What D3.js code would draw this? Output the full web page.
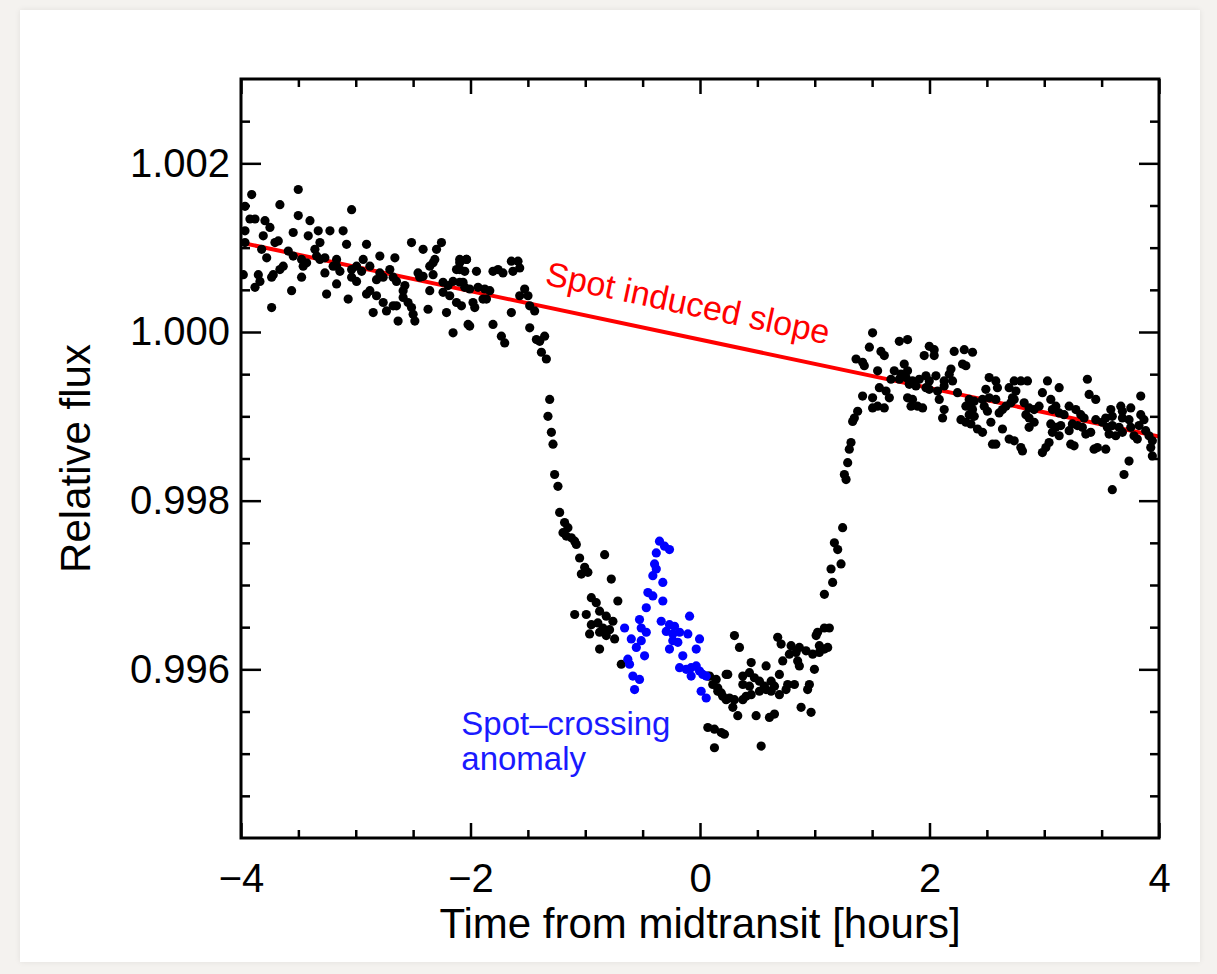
<!DOCTYPE html>
<html lang="en">
<head>
    <meta charset="UTF-8" />
    <title>Spot-crossing transit light curve</title>
    <script src="https://d3js.org/d3.v7.min.js"></script>
    <style>
        * { margin: 0; padding: 0; box-sizing: border-box; }
        body { background-color: #f4f2ef; width: 1217px; height: 974px; overflow: hidden; }
        .panel {
            position: absolute; left: 20px; top: 10px; width: 1180px; height: 952px;
            background: #fff; box-shadow: 0 0 6px rgba(0, 0, 0, 0.08);
        }
        svg { position: absolute; left: 0; top: 0; }
    </style>
</head>
<body>
<div class="panel"></div>
<svg width="1217" height="974"></svg>
<script>
    // Light curve points: [time from midtransit (h), relative flux]
    var beforeTransit = [
        [-3.907,1.00163],[-3.501,1.00169],[-3.661,1.00151],[-3.036,1.00145],[-3.965,1.00149],
        [-3.922,1.00134],[-3.878,1.00134],[-3.965,1.00120],[-3.791,1.00132],[-3.748,1.00124],
        [-3.501,1.00138],[-3.399,1.00132],[-3.545,1.00118],[-3.414,1.00114],[-3.327,1.00120],
        [-3.225,1.00120],[-3.110,1.00120],[-3.806,1.00114],[-3.704,1.00106],[-3.675,1.00108],
        [-3.312,1.00106],[-3.080,1.00104],[-2.906,1.00104],[-2.514,1.00106],[-2.413,1.00098],
        [-2.253,1.00106],[-2.296,1.00098],[-3.965,1.00106],[-3.820,1.00098],[-3.588,1.00096],
        [-3.545,1.00090],[-3.356,1.00098],[-3.341,1.00090],[-3.472,1.00086],[-3.428,1.00082],
        [-3.776,1.00088],[-3.312,1.00086],[-3.269,1.00088],[-3.167,1.00086],[-2.935,1.00086],
        [-2.790,1.00090],[-2.659,1.00088],[-2.311,1.00086],[-2.094,1.00086],[-2.035,1.00086],
        [-3.632,1.00078],[-3.661,1.00074],[-3.458,1.00078],[-3.197,1.00078],[-3.167,1.00078],
        [-3.036,1.00074],[-2.993,1.00078],[-2.949,1.00072],[-2.877,1.00078],[-2.790,1.00070],
        [-2.703,1.00074],[-2.457,1.00070],[-2.413,1.00066],[-2.355,1.00078],[-2.326,1.00082],
        [-2.122,1.00074],[-2.094,1.00082],[-3.719,1.00068],[-3.733,1.00065],[-3.849,1.00068],
        [-3.835,1.00060],[-3.980,1.00068],[-3.472,1.00065],[-3.269,1.00070],[-3.138,1.00072],
        [-3.036,1.00065],[-2.993,1.00060],[-2.819,1.00062],[-2.761,1.00065],[-2.674,1.00065],
        [-2.645,1.00060],[-2.572,1.00055],[-2.587,1.00049],[-2.442,1.00065],[-2.326,1.00068],
        [-2.239,1.00059],[-2.195,1.00055],[-2.152,1.00060],[-2.065,1.00059],[-3.878,1.00053],
        [-3.559,1.00049],[-3.167,1.00057],[-3.254,1.00045],[-3.066,1.00039],[-2.906,1.00045],
        [-2.877,1.00049],[-2.819,1.00043],[-2.587,1.00041],[-2.355,1.00049],[-2.239,1.00047],
        [-2.181,1.00043],[-2.761,1.00035],[-2.674,1.00031],[-2.645,1.00031],[-2.544,1.00035],
        [-2.514,1.00029],[-3.733,1.00029],[-2.848,1.00023],[-2.732,1.00025],[-2.500,1.00021],
        [-2.485,1.00013],[-2.370,1.00027],[-2.209,1.00023],[-2.122,1.00035],[-2.631,1.00013],
        [-2.021,1.00009],[-2.152,0.99999],
        [-2.035,1.00086],[-2.094,1.00074],[-2.050,1.00072],[-1.948,1.00072],[-1.804,1.00072],
        [-1.760,1.00074],[-1.717,1.00070],[-1.644,1.00084],[-1.586,1.00084],[-1.571,1.00076],
        [-1.630,1.00072],[-2.094,1.00059],[-2.050,1.00053],[-2.007,1.00051],[-1.934,1.00053],
        [-1.876,1.00051],[-1.832,1.00049],[-1.528,1.00051],[-1.499,1.00043],[-1.571,1.00043],
        [-2.079,1.00031],[-1.978,1.00035],[-1.963,1.00029],[-1.891,1.00039],[-1.861,1.00039],
        [-1.484,1.00031],[-1.441,1.00025],[-1.644,1.00023],[-2.007,1.00007],[-1.804,1.00009],
        [-1.484,1.00005],[-1.731,0.99995],[-1.702,0.99987],[-1.354,0.99995],[-1.397,0.99989],
        [-1.426,0.99991]
    ];

    var inTransit = [
        [-1.382,0.99976],[-1.339,0.99968],[-1.310,0.99920],[-1.325,0.99900],[-1.295,0.99881],
        [-1.281,0.99867],[-1.267,0.99831],[-1.238,0.99817],[-1.223,0.99786],[-1.180,0.99774],
        [-1.151,0.99768],[-1.194,0.99762],[-1.121,0.99756],[-1.092,0.99752],[-1.165,0.99758],
        [-1.078,0.99748],[-1.049,0.99732],[-0.831,0.99736],[-1.005,0.99721],[-1.034,0.99713],
        [-0.977,0.99715],[-0.773,0.99707],[-0.947,0.99685],[-0.904,0.99679],[-0.716,0.99681],
        [-1.092,0.99665],[-0.991,0.99665],[-0.875,0.99669],[-0.817,0.99663],[-0.759,0.99657],
        [-0.947,0.99653],[-0.890,0.99655],[-0.846,0.99649],[-0.788,0.99647],[-0.962,0.99642],
        [-0.875,0.99644],[-0.817,0.99640],[-0.744,0.99636],[-0.875,0.99624],[-0.686,0.99606],
        [0.083,0.99592],[0.141,0.99588],[0.228,0.99594],[0.155,0.99578],[0.185,0.99572],
        [0.228,0.99564],[0.068,0.99531],[0.126,0.99529],[0.185,0.99525],[0.126,0.99507],
        [0.300,0.99640],[0.677,0.99638],[0.707,0.99630],[0.344,0.99626],[0.794,0.99628],
        [0.866,0.99626],[0.924,0.99622],[0.779,0.99618],[0.837,0.99620],[1.040,0.99628],
        [1.084,0.99624],[1.113,0.99626],[0.982,0.99618],[1.040,0.99620],[0.446,0.99608],
        [0.576,0.99604],[0.721,0.99610],[0.851,0.99610],[0.866,0.99604],[0.997,0.99600],
        [0.068,0.99592],[0.242,0.99594],[0.373,0.99592],[0.431,0.99596],[0.474,0.99590],
        [0.692,0.99594],[0.111,0.99582],[0.155,0.99574],[0.198,0.99568],[0.373,0.99582],
        [0.431,0.99580],[0.518,0.99586],[0.561,0.99580],[0.620,0.99586],[0.649,0.99580],
        [0.764,0.99582],[0.823,0.99582],[0.953,0.99582],[0.938,0.99576],[0.518,0.99574],
        [0.576,0.99576],[0.620,0.99574],[0.692,0.99570],[0.750,0.99576],[0.257,0.99566],
        [0.300,0.99564],[0.373,0.99564],[0.402,0.99568],[0.446,0.99570],[0.286,0.99555],
        [0.329,0.99545],[0.489,0.99545],[0.605,0.99543],[0.649,0.99547],[0.881,0.99555],
        [0.968,0.99549],[0.213,0.99523],[0.533,0.99509],
        [1.084,0.99649],[1.127,0.99649],[1.025,0.99644],[1.012,0.99640],[1.084,0.99689],
        [1.156,0.99703],[1.142,0.99719],[1.229,0.99725],[1.200,0.99742],[1.171,0.99750],
        [1.243,0.99768],[1.273,0.99825],[1.258,0.99831],[1.287,0.99845],[1.301,0.99861],
        [1.316,0.99869],[1.330,0.99894],[1.345,0.99898],[1.374,0.99906],[1.360,0.99968],
        [1.417,0.99964],[1.432,0.99960]
    ];

    var spotCrossing = [
        [-0.353,0.99752],[-0.309,0.99746],[-0.266,0.99742],[-0.381,0.99738],[-0.396,0.99725],
        [-0.381,0.99719],[-0.411,0.99711],[-0.324,0.99703],[-0.454,0.99691],[-0.411,0.99687],
        [-0.324,0.99681],[-0.468,0.99673],[-0.091,0.99663],[-0.527,0.99659],[-0.512,0.99649],
        [-0.338,0.99657],[-0.266,0.99653],[-0.222,0.99651],[-0.657,0.99649],[-0.468,0.99644],
        [-0.294,0.99645],[-0.237,0.99642],[-0.178,0.99644],[-0.106,0.99642],[-0.599,0.99636],
        [-0.512,0.99634],[-0.237,0.99634],[-0.193,0.99632],[-0.004,0.99636],[-0.555,0.99626],
        [-0.483,0.99616],[-0.266,0.99624],[-0.033,0.99624],[-0.150,0.99616],[-0.629,0.99612],
        [-0.614,0.99606],[-0.178,0.99602],[-0.120,0.99600],[-0.077,0.99602],[-0.033,0.99604],
        [-0.004,0.99598],[-0.585,0.99592],[-0.527,0.99588],[-0.077,0.99592],[0.024,0.99594],
        [0.054,0.99592],[-0.570,0.99576],[0.010,0.99574],[0.054,0.99566]
    ];

    var afterTransit = [
        [1.504,0.99999],[1.737,0.99989],[1.809,0.99991],[1.476,0.99982],[1.577,0.99977],
        [1.606,0.99972],[1.998,0.99983],[2.041,0.99979],[1.954,0.99972],[2.041,0.99972],
        [2.215,0.99977],[2.303,0.99979],[2.375,0.99976],[2.288,0.99962],[2.317,0.99960],
        [1.548,0.99954],[1.693,0.99954],[1.780,0.99962],[1.751,0.99950],[1.809,0.99954],
        [2.187,0.99956],[2.172,0.99950],[1.664,0.99944],[1.737,0.99944],[1.795,0.99946],
        [1.852,0.99942],[1.911,0.99944],[1.969,0.99948],[1.998,0.99942],[2.056,0.99948],
        [2.128,0.99942],[2.201,0.99942],[2.520,0.99946],[2.578,0.99942],[2.738,0.99942],
        [2.796,0.99942],[2.854,0.99942],[3.028,0.99942],[3.376,0.99944],[1.563,0.99934],
        [1.621,0.99930],[1.824,0.99938],[1.882,0.99936],[1.969,0.99934],[1.998,0.99932],
        [2.070,0.99930],[2.128,0.99936],[2.244,0.99928],[2.491,0.99932],[2.592,0.99934],
        [2.694,0.99934],[2.753,0.99930],[2.984,0.99928],[3.130,0.99934],[1.417,0.99924],
        [1.504,0.99922],[1.650,0.99922],[1.809,0.99922],[1.852,0.99920],[2.085,0.99920],
        [2.346,0.99920],[2.390,0.99918],[2.462,0.99920],[2.520,0.99922],[2.578,0.99920],
        [2.723,0.99922],[2.738,0.99920],[2.825,0.99916],[3.391,0.99926],[3.449,0.99920],
        [3.841,0.99924],[1.504,0.99910],[1.548,0.99912],[1.606,0.99910],[1.839,0.99912],
        [1.896,0.99912],[1.940,0.99910],[2.317,0.99912],[2.361,0.99914],[2.375,0.99908],
        [2.477,0.99912],[2.505,0.99906],[2.666,0.99912],[2.709,0.99916],[2.868,0.99910],
        [2.912,0.99908],[2.955,0.99912],[3.057,0.99920],[3.071,0.99908],[3.101,0.99912],
        [3.217,0.99912],[3.275,0.99908],[3.580,0.99908],[3.667,0.99912],[3.681,0.99906],
        [3.754,0.99910],[2.128,0.99908],[2.114,0.99898],[2.346,0.99902],[2.390,0.99900],
        [2.607,0.99904],[2.636,0.99908],[2.840,0.99902],[2.868,0.99898],[3.130,0.99904],
        [3.173,0.99902],[3.318,0.99902],[3.347,0.99898],[3.449,0.99896],[3.536,0.99898],
        [3.593,0.99900],[3.681,0.99898],[3.739,0.99896],[3.841,0.99902],[3.869,0.99896],
        [2.274,0.99896],[2.317,0.99893],[2.361,0.99891],[2.535,0.99893],[2.912,0.99893],
        [2.868,0.99887],[3.057,0.99891],[3.101,0.99887],[3.144,0.99889],[3.245,0.99891],
        [3.289,0.99889],[3.332,0.99887],[3.506,0.99893],[3.550,0.99887],[3.593,0.99889],
        [3.652,0.99887],[3.754,0.99887],[3.826,0.99889],[3.884,0.99883],[2.418,0.99885],
        [2.462,0.99881],[2.636,0.99885],[3.071,0.99881],[3.130,0.99877],[3.217,0.99883],
        [3.362,0.99879],[3.405,0.99881],[3.565,0.99879],[3.623,0.99877],[3.681,0.99881],
        [3.782,0.99877],[3.811,0.99873],[3.913,0.99877],[3.942,0.99871],[2.549,0.99867],
        [2.578,0.99867],[2.694,0.99873],[2.738,0.99871],[2.796,0.99863],[2.810,0.99859],
        [3.042,0.99869],[3.014,0.99863],[2.984,0.99857],[3.231,0.99867],[3.260,0.99865],
        [3.434,0.99861],[3.463,0.99863],[3.536,0.99861],[3.928,0.99863],[3.942,0.99853],
        [3.739,0.99847],[3.695,0.99831],[3.593,0.99813]
    ];

    // Spot induced slope (straight line)
    var slopeTime = [-4, 4];
    var slopeFlux = [1.00106, 0.99876];

    // Axis ticks
    var xMajorTicks = [-4, -2, 0, 2, 4];
    var xMinorTicks = [-3.5, -3, -2.5, -1.5, -1, -0.5, 0.5, 1, 1.5, 2.5, 3, 3.5];
    var yMajorTicks = [0.996, 0.998, 1.000, 1.002];
    var yMinorTicks = [0.9945, 0.995, 0.9955, 0.9965, 0.997, 0.9975, 0.9985, 0.999, 0.9995,
                       1.0005, 1.001, 1.0015, 1.0025];

    // Layout
    var plotLeft = 241, plotRight = 1159, plotTop = 79, plotBottom = 838;
    var fontStack = "'Liberation Sans', Arial, Helvetica, sans-serif";

    var xScale = d3.scaleLinear().domain([-4, 4]).range([plotLeft, plotRight]);
    var yScale = d3.scaleLinear().domain([0.994, 1.003]).range([plotBottom, plotTop]);

    var svg = d3.select("svg");

    svg.append("clipPath").attr("id", "plotClip")
        .append("rect")
        .attr("x", plotLeft).attr("y", plotTop)
        .attr("width", plotRight - plotLeft).attr("height", plotBottom - plotTop);

    var plot = svg.append("g").attr("clip-path", "url(#plotClip)");

    // Red slope line
    plot.append("line")
        .attr("x1", xScale(slopeTime[0])).attr("y1", yScale(slopeFlux[0]))
        .attr("x2", xScale(slopeTime[1])).attr("y2", yScale(slopeFlux[1]))
        .attr("stroke", "#ff0000")
        .attr("stroke-width", 4);

    // Black points
    var blackPoints = beforeTransit.concat(inTransit, afterTransit);
    plot.selectAll("circle.black")
        .data(blackPoints)
        .enter()
        .append("circle")
        .attr("class", "black")
        .attr("cx", function(d) { return xScale(d[0]); })
        .attr("cy", function(d) { return yScale(d[1]); })
        .attr("r", 4.6)
        .attr("fill", "#000");

    // Blue spot-crossing points
    plot.selectAll("circle.blue")
        .data(spotCrossing)
        .enter()
        .append("circle")
        .attr("class", "blue")
        .attr("cx", function(d) { return xScale(d[0]); })
        .attr("cy", function(d) { return yScale(d[1]); })
        .attr("r", 4.6)
        .attr("fill", "#0000ff");

    // Axes with inward ticks on all four sides
    function styleAxis(g, width) {
        g.select(".domain").remove();
        g.selectAll(".tick line").attr("stroke", "#000").attr("stroke-width", width);
        g.selectAll(".tick text")
            .attr("font-family", fontStack)
            .attr("font-size", "40px")
            .attr("fill", "#000");
    }

    svg.append("g")
        .attr("transform", "translate(0," + plotBottom + ")")
        .call(d3.axisBottom(xScale).tickValues(xMajorTicks).tickSize(-15).tickPadding(26)
            .tickFormat(d3.format("d")))
        .call(styleAxis, 2.5);
    svg.append("g")
        .attr("transform", "translate(0," + plotBottom + ")")
        .call(d3.axisBottom(xScale).tickValues(xMinorTicks).tickSize(-8).tickFormat(""))
        .call(styleAxis, 2.5);
    svg.append("g")
        .attr("transform", "translate(0," + plotTop + ")")
        .call(d3.axisTop(xScale).tickValues(xMajorTicks).tickSize(-15).tickFormat(""))
        .call(styleAxis, 2.5);
    svg.append("g")
        .attr("transform", "translate(0," + plotTop + ")")
        .call(d3.axisTop(xScale).tickValues(xMinorTicks).tickSize(-8).tickFormat(""))
        .call(styleAxis, 2.5);

    svg.append("g")
        .attr("transform", "translate(" + plotLeft + ",0)")
        .call(d3.axisLeft(yScale).tickValues(yMajorTicks).tickSize(-20).tickPadding(11)
            .tickFormat(d3.format(".3f")))
        .call(styleAxis, 2.5);
    svg.append("g")
        .attr("transform", "translate(" + plotLeft + ",0)")
        .call(d3.axisLeft(yScale).tickValues(yMinorTicks).tickSize(-9).tickFormat(""))
        .call(styleAxis, 2.5);
    svg.append("g")
        .attr("transform", "translate(" + plotRight + ",0)")
        .call(d3.axisRight(yScale).tickValues(yMajorTicks).tickSize(-20).tickFormat(""))
        .call(styleAxis, 2.5);
    svg.append("g")
        .attr("transform", "translate(" + plotRight + ",0)")
        .call(d3.axisRight(yScale).tickValues(yMinorTicks).tickSize(-9).tickFormat(""))
        .call(styleAxis, 2.5);

    // Frame
    svg.append("rect")
        .attr("x", plotLeft).attr("y", plotTop)
        .attr("width", plotRight - plotLeft).attr("height", plotBottom - plotTop)
        .attr("fill", "none")
        .attr("stroke", "#000")
        .attr("stroke-width", 3);

    // Axis titles
    svg.append("text")
        .attr("x", (plotLeft + plotRight) / 2)
        .attr("y", 938)
        .attr("text-anchor", "middle")
        .attr("font-family", fontStack)
        .attr("font-size", "42px")
        .text("Time from midtransit [hours]");

    svg.append("text")
        .attr("transform", "translate(90," + (plotTop + plotBottom) / 2 + ") rotate(-90)")
        .attr("text-anchor", "middle")
        .attr("font-family", fontStack)
        .attr("font-size", "42px")
        .text("Relative flux");

    // Annotation along the slope
    var slopeAngle = Math.atan2(yScale(slopeFlux[1]) - yScale(slopeFlux[0]),
        xScale(slopeTime[1]) - xScale(slopeTime[0])) * 180 / Math.PI;
    var labelTime = -1.36;
    var labelFlux = slopeFlux[0] + (slopeFlux[1] - slopeFlux[0]) *
        (labelTime - slopeTime[0]) / (slopeTime[1] - slopeTime[0]);
    svg.append("text")
        .attr("transform", "translate(" + xScale(labelTime) + "," + (yScale(labelFlux) - 22) +
            ") rotate(" + slopeAngle + ")")
        .attr("font-family", fontStack)
        .attr("font-size", "34px")
        .attr("fill", "#ff0000")
        .text("Spot induced slope");

    // Spot-crossing annotation
    var spotLabel = svg.append("text")
        .attr("x", xScale(-2.08))
        .attr("y", yScale(0.99522))
        .attr("font-family", fontStack)
        .attr("font-size", "33px")
        .attr("fill", "#1a1aff");
    spotLabel.append("tspan").attr("x", xScale(-2.08)).text("Spot\u2013crossing");
    spotLabel.append("tspan").attr("x", xScale(-2.08)).attr("dy", 35).text("anomaly");
</script>
</body>
</html>
